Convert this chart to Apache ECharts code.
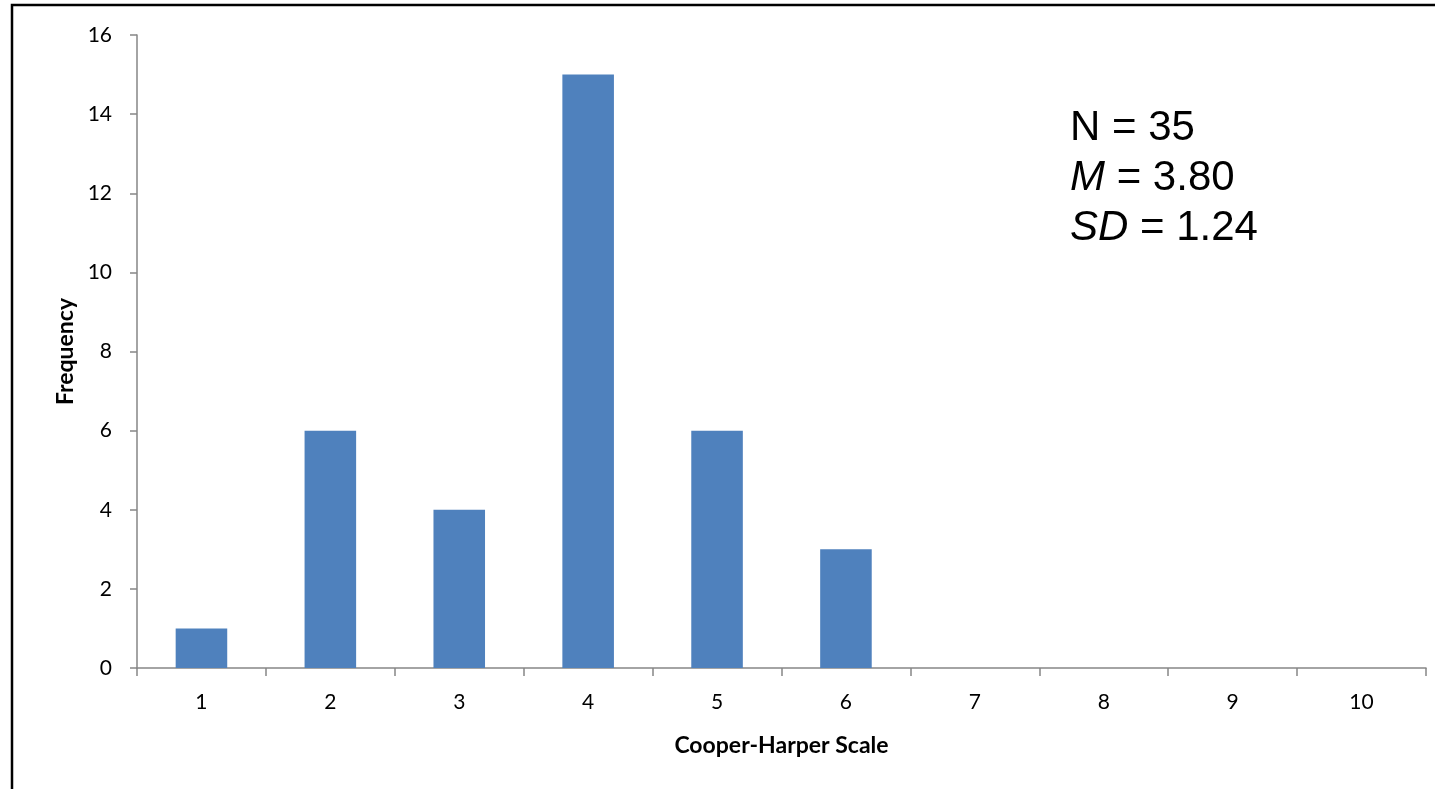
<!DOCTYPE html>
<html><head><meta charset="utf-8">
<script src="https://cdn.jsdelivr.net/npm/echarts@6/dist/echarts.min.js"></script>
<style>html,body{margin:0;padding:0;background:#fff}#c{width:1435px;height:789px}</style>
</head><body><div id="c"></div>
<script>
const categories = ['1','2','3','4','5','6','7','8','9','10'];
const frequency = [1,6,4,15,6,3,0,0,0,0];
const yTicks = {min:0, max:16, interval:2};
const statsN = '35', statsM = '3.80', statsSD = '1.24';

const chart = echarts.init(document.getElementById('c'));
const font = 'Lato, "Open Sans", sans-serif';
chart.setOption({
  animation:false,
  grid:{left:137, top:35, right:9, bottom:121},
  xAxis:{type:'category', data:categories,
    name:'Cooper-Harper Scale', nameLocation:'middle', nameGap:66,
    nameTextStyle:{fontFamily:font, fontWeight:'bold', fontSize:23, color:'#000'},
    axisLine:{lineStyle:{color:'#868686', width:1.5}},
    axisTick:{show:true, length:8, lineStyle:{color:'#868686', width:1.5}, alignWithLabel:false},
    axisLabel:{fontFamily:font, fontSize:21, color:'#000', margin:24}},
  yAxis:{type:'value', min:yTicks.min, max:yTicks.max, interval:yTicks.interval,
    name:'Frequency', nameLocation:'middle', nameGap:60, nameRotate:90,
    nameTextStyle:{fontFamily:font, fontWeight:'bold', fontSize:23, color:'#000'},
    axisLine:{show:true, lineStyle:{color:'#868686', width:1.5}},
    axisTick:{show:true, length:7, lineStyle:{color:'#868686', width:1.5}},
    splitLine:{show:false},
    axisLabel:{fontFamily:font, fontSize:21, color:'#000', margin:25}},
  series:[{type:'bar', data:frequency, barWidth:'40%', itemStyle:{color:'#4F81BD'}}],
  graphic:[
    {type:'rect', shape:{x:12, y:5, width:1500, height:900}, style:{fill:'none', stroke:'#000', lineWidth:2.5}, silent:true},
    {type:'text', left:1070, top:103, style:{
      text:'N = '+statsN+'\n{i|M} = '+statsM+'\n{i|SD} = '+statsSD,
      font:'42px "Liberation Sans", Arial, sans-serif', fill:'#000', lineHeight:50,
      rich:{i:{fontStyle:'italic', fontSize:42, fontFamily:'"Liberation Sans", Arial, sans-serif', fill:'#000', lineHeight:50}}}}
  ]
});
</script></body></html>
